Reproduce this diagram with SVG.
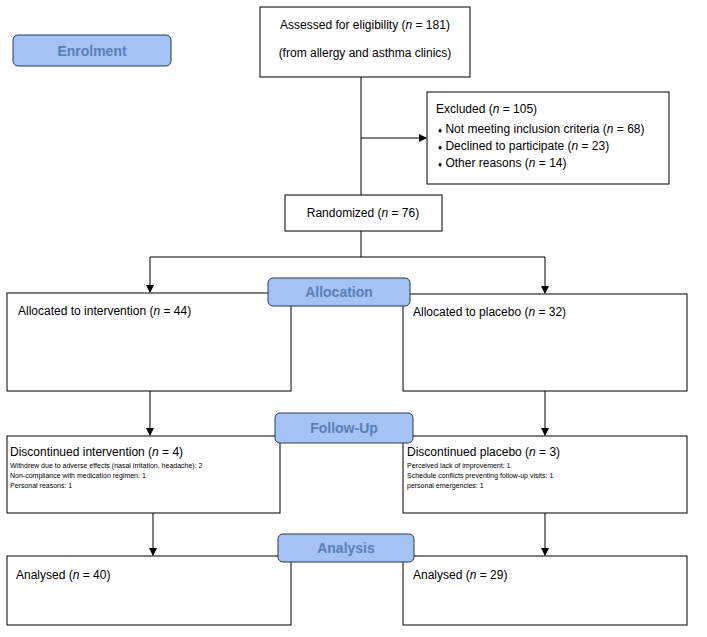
<svg xmlns="http://www.w3.org/2000/svg" width="707" height="637" viewBox="0 0 707 637">
<style>
.b{fill:#fff;stroke:#000;stroke-width:1}
.l{fill:#a4c2f4;stroke:#2b3a55;stroke-width:1}
.lt{font-family:"Liberation Sans",Arial,sans-serif;font-weight:bold;font-size:14px;fill:#5a7fb5;text-anchor:middle}
text{font-family:"Liberation Sans",Arial,sans-serif;fill:#000}
.t{font-size:12px}
.s{font-size:7px}
.c{stroke:#000;stroke-width:1;fill:none}
</style>
<defs><marker id="a" markerWidth="8" markerHeight="8" refX="7" refY="4" orient="auto" markerUnits="userSpaceOnUse"><path d="M0,0L8,4L0,8z" fill="#000"/></marker></defs>
<rect width="707" height="637" fill="#fff"/>
<g id="connectors">
<path class="c" d="M361,77V195"/>
<path class="c" d="M361,138H426" marker-end="url(#a)"/>
<path class="c" d="M361,231V257"/>
<path class="c" d="M150,257H545"/>
<path class="c" d="M150,257V292" marker-end="url(#a)"/>
<path class="c" d="M545,257V293" marker-end="url(#a)"/>
<path class="c" d="M150,391V435" marker-end="url(#a)"/>
<path class="c" d="M545,391V435" marker-end="url(#a)"/>
<path class="c" d="M153,513V555" marker-end="url(#a)"/>
<path class="c" d="M545,513V555" marker-end="url(#a)"/>
</g>
<g id="enrolment"><rect class="l" x="13" y="35" width="158" height="31" rx="5"/><text class="lt" x="92" y="56">Enrolment</text></g>
<g id="assessed"><rect class="b" x="260" y="7" width="210" height="70"/>
<text class="t" x="365" y="29" text-anchor="middle">Assessed for eligibility (<tspan font-style="italic">n</tspan> = 181)</text>
<text class="t" x="365" y="57" text-anchor="middle">(from allergy and asthma clinics)</text></g>
<g id="excluded"><rect class="b" x="427" y="92" width="242" height="92"/>
<text class="t" x="436" y="113">Excluded (<tspan font-style="italic">n</tspan> = 105)</text>
<text class="t" x="438" y="133"><tspan font-size="8">♦</tspan>  Not meeting inclusion criteria (<tspan font-style="italic">n</tspan> = 68)</text>
<text class="t" x="438" y="150"><tspan font-size="8">♦</tspan>  Declined to participate (<tspan font-style="italic">n</tspan> = 23)</text>
<text class="t" x="438" y="167"><tspan font-size="8">♦</tspan>  Other reasons (<tspan font-style="italic">n</tspan> = 14)</text></g>
<g id="randomized"><rect class="b" x="285" y="195" width="157" height="36"/>
<text class="t" x="363" y="217" text-anchor="middle">Randomized (<tspan font-style="italic">n</tspan> = 76)</text></g>
<g id="alloc-int"><rect class="b" x="7" y="293" width="284" height="98"/>
<text class="t" x="18" y="315">Allocated to intervention (<tspan font-style="italic">n</tspan> = 44)</text></g>
<g id="alloc-pla"><rect class="b" x="403" y="294" width="284" height="97"/>
<text class="t" x="413" y="316">Allocated to placebo (<tspan font-style="italic">n</tspan> = 32)</text></g>
<g id="allocation"><rect class="l" x="268" y="278" width="142" height="28" rx="5"/><text class="lt" x="339" y="297">Allocation</text></g>
<g id="disc-int"><rect class="b" x="7" y="436" width="273" height="77"/>
<text class="t" x="10" y="456">Discontinued intervention (<tspan font-style="italic">n</tspan> = 4)</text>
<text class="s" x="10" y="468">Withdrew due to adverse effects (nasal irritation, headache): 2</text>
<text class="s" x="10" y="478">Non-compliance with medication regimen: 1</text>
<text class="s" x="10" y="488">Personal reasons: 1</text></g>
<g id="disc-pla"><rect class="b" x="403" y="436" width="284" height="77"/>
<text class="t" x="407" y="456">Discontinued placebo (<tspan font-style="italic">n</tspan> = 3)</text>
<text class="s" x="407" y="468">Perceived lack of improvement: 1</text>
<text class="s" x="407" y="478">Schedule conflicts preventing follow-up visits: 1</text>
<text class="s" x="407" y="488">personal emergencies: 1</text></g>
<g id="followup"><rect class="l" x="275" y="413" width="138" height="30" rx="5"/><text class="lt" x="344" y="433">Follow-Up</text></g>
<g id="anal-int"><rect class="b" x="7" y="556" width="284" height="69"/>
<text class="t" x="16" y="579">Analysed  (<tspan font-style="italic">n</tspan> = 40)</text></g>
<g id="anal-pla"><rect class="b" x="403" y="556" width="284" height="69"/>
<text class="t" x="413" y="579">Analysed  (<tspan font-style="italic">n</tspan> = 29)</text></g>
<g id="analysis"><rect class="l" x="278" y="534" width="136" height="28" rx="5"/><text class="lt" x="346" y="553">Analysis</text></g>
</svg>
